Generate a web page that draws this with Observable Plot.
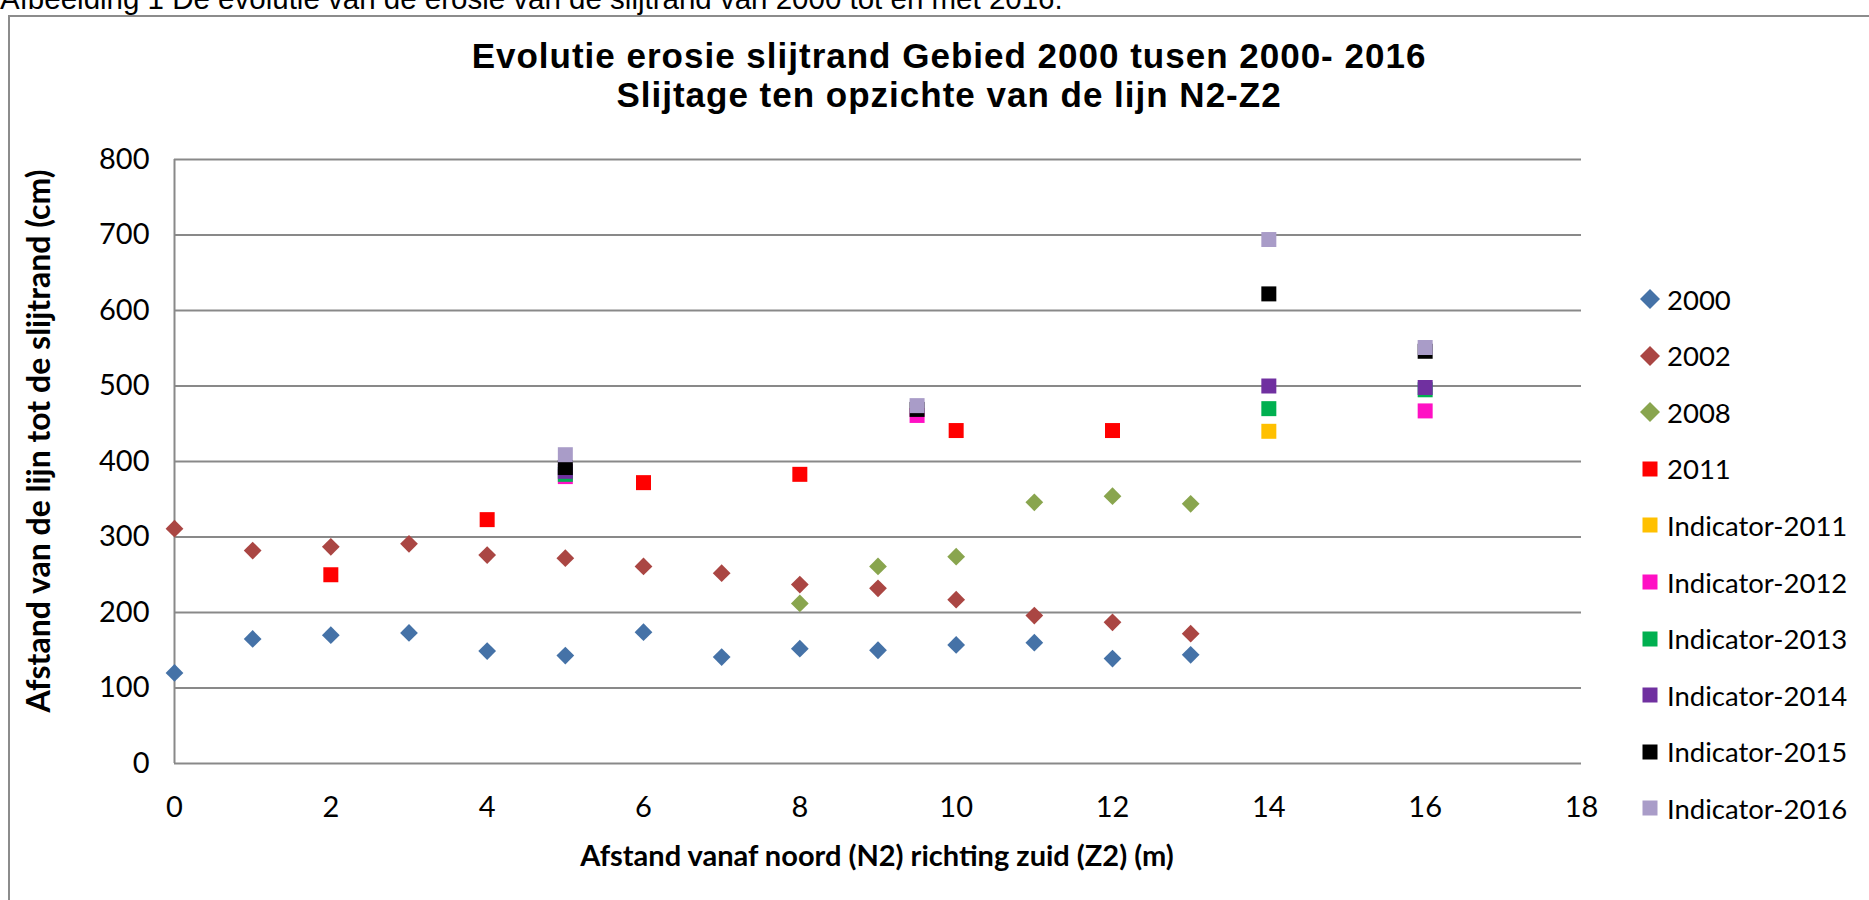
<!DOCTYPE html>
<html>
<head>
<meta charset="utf-8">
<script src="https://cdn.jsdelivr.net/npm/d3@7"></script>
<script src="https://cdn.jsdelivr.net/npm/@observablehq/plot@0.6"></script>
<style>
  html, body { margin: 0; padding: 0; background: #fff; }
  #wrap { position: relative; width: 1869px; height: 900px; overflow: hidden; background: #fff; }
  #caption { position: absolute; left: 0; top: -16px; font-family: "Liberation Sans", Arial, sans-serif; font-size: 29.5px; line-height: 29.5px; white-space: nowrap; color: #000; }
  #frame { position: absolute; left: 8px; top: 15px; width: 1900px; height: 1000px; border: 2px solid #8c8c8c; box-sizing: border-box; }
  .title { position: absolute; left: 0; width: 1898px; text-align: center; font-family: "Liberation Sans", Arial, sans-serif; font-weight: bold; font-size: 35px; line-height: 40px; letter-spacing: 1px; color: #000; white-space: nowrap; }
  #chart { position: absolute; left: 0; top: 0; }
  .axtitle { position: absolute; font-family: Lato, sans-serif; font-weight: bold; line-height: 34px; color: #000; white-space: nowrap; }
  #legend { position: absolute; left: 0; top: 0; }
  .lrow { position: absolute; left: 1638px; height: 30px; display: flex; align-items: center; font-family: Lato, sans-serif; font-size: 27.5px; color: #000; white-space: nowrap; }
  .lrow svg { display: block; margin-right: 5px; }
</style>
</head>
<body>
<div id="wrap">
  <div id="frame"></div>
  <div id="caption">Afbeelding 1 De evolutie van de erosie van de slijtrand van 2000 tot en met 2016.</div>
  <div class="title" style="top:36px">Evolutie erosie slijtrand Gebied 2000 tusen 2000- 2016</div>
  <div class="title" style="top:75px">Slijtage ten opzichte van de lijn N2-Z2</div>
  <div id="chart"></div>
  <div class="axtitle" id="ytitle" style="left:38px; top:441px; font-size:32px; transform: translate(-50%,-50%) rotate(-90deg);">Afstand van de lijn tot de slijtrand (cm)</div>
  <div class="axtitle" id="xtitle" style="left:877px; top:855px; font-size:29px; transform: translate(-50%,-50%);">Afstand vanaf noord (N2) richting zuid (Z2) (m)</div>
  <div id="legend"></div>
</div>
<script>
// ---- data ----
const xTicks = [0, 2, 4, 6, 8, 10, 12, 14, 16, 18];
const yTicks = [0, 100, 200, 300, 400, 500, 600, 700, 800];

const seriesNames = ["2000", "2002", "2008", "2011", "Indicator-2011", "Indicator-2012", "Indicator-2013", "Indicator-2014", "Indicator-2015", "Indicator-2016"];
const seriesColors = ["#4572A7", "#AA4643", "#89A54E", "#FF0000", "#FFC000", "#FF10C4", "#00B050", "#7030A0", "#000000", "#A99CC8"];
const seriesShapes = ["diamond", "diamond", "diamond", "square", "square", "square", "square", "square", "square", "square"];

const x2000 = [0, 1, 2, 3, 4, 5, 6, 7, 8, 9, 10, 11, 12, 13];
const y2000 = [120, 165, 170, 173, 149, 143, 174, 141, 152, 150, 157, 160, 139, 144];

const x2002 = [0, 1, 2, 3, 4, 5, 6, 7, 8, 9, 10, 11, 12, 13];
const y2002 = [311, 282, 287, 291, 276, 272, 261, 252, 237, 232, 217, 196, 187, 172];

const x2008 = [8, 9, 10, 11, 12, 13];
const y2008 = [212, 261, 274, 346, 354, 344];

const x2011 = [2, 4, 6, 8, 10, 12];
const y2011 = [250, 323, 372, 383, 441, 441];

const xInd2011 = [14];
const yInd2011 = [440];

const xInd2012 = [5, 9.5, 16];
const yInd2012 = [380, 461, 467];

const xInd2013 = [5, 14, 16];
const yInd2013 = [383, 470, 495];

const xInd2014 = [5, 14, 16];
const yInd2014 = [387, 500, 498];

const xInd2015 = [5, 9.5, 14, 16];
const yInd2015 = [392, 469, 622, 546];

const xInd2016 = [5, 9.5, 14, 16];
const yInd2016 = [409, 474, 694, 551];

const seriesX = [x2000, x2002, x2008, x2011, xInd2011, xInd2012, xInd2013, xInd2014, xInd2015, xInd2016];
const seriesY = [y2000, y2002, y2008, y2011, yInd2011, yInd2012, yInd2013, yInd2014, yInd2015, yInd2016];

// ---- chart ----
const gridColor = "#898989";
const marks = [
  Plot.gridY(yTicks, {stroke: gridColor, strokeOpacity: 1, strokeWidth: 2}),
  Plot.ruleX([0], {stroke: gridColor, strokeWidth: 2}),
  Plot.axisY(yTicks, {tickSize: 0, tickPadding: 25, fontSize: 29, label: null}),
  Plot.axisX(xTicks, {tickSize: 0, tickPadding: 33, fontSize: 29, label: null})
];
seriesNames.forEach((name, i) => {
  const rows = seriesX[i].map((x, j) => ({series: name, x, y: seriesY[i][j]}));
  const isDiamond = seriesShapes[i] === "diamond";
  marks.push(Plot.dot(rows, {
    x: "x", y: "y",
    fill: seriesColors[i],
    symbol: isDiamond ? "diamond2" : "square",
    r: isDiamond ? 8 : 8.46
  }));
});

const chart = Plot.plot({
  width: 1869,
  height: 900,
  marginLeft: 174,
  marginRight: 288,
  marginTop: 159,
  marginBottom: 137,
  x: {domain: [0, 18], label: null},
  y: {domain: [0, 800], label: null},
  style: {fontFamily: "Lato, sans-serif", color: "#000", background: "transparent", overflow: "visible"},
  marks
});
document.getElementById("chart").appendChild(chart);

// ---- legend ----
const legend = document.getElementById("legend");
seriesNames.forEach((name, i) => {
  const row = document.createElement("div");
  row.className = "lrow";
  const cy = 299 + i * 56.6;
  row.style.top = (cy - 15) + "px";
  const shape = seriesShapes[i] === "diamond"
    ? `<polygon points="12,2 22,12 12,22 2,12" fill="${seriesColors[i]}"/>`
    : `<rect x="4.5" y="4.5" width="15" height="15" fill="${seriesColors[i]}"/>`;
  row.innerHTML = `<svg width="24" height="24" viewBox="0 0 24 24">${shape}</svg><span>${name}</span>`;
  legend.appendChild(row);
});
</script>
</body>
</html>
